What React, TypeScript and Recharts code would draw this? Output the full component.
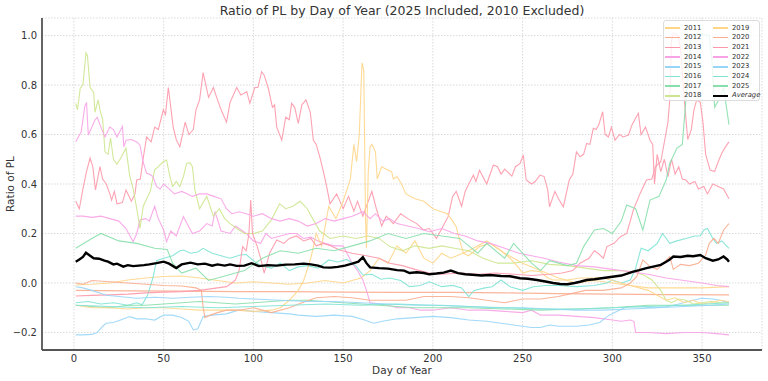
import { LineChart, Line, XAxis, YAxis, CartesianGrid } from "recharts";

type P = [number, number];

// [day of year, ratio]
const s2011: P[] = [[1,-0.008],[10,-0.005],[20,0],[30,0.012],[40,0.02],[50,0.026],[60,0.028],[70,0.02],[80,0.01],[90,0],[100,0.005],[110,0],[120,-0.005],[130,0],[140,0.01],[150,0],[160,0.02],[165,0.05],[170,0.1],[175,0.08],[180,0.15],[185,0.12],[190,0.17],[195,0.1],[200,0.08],[205,0.12],[210,0.1],[220,0.13],[230,0.17],[240,0.12],[250,0.08],[260,0.05],[270,0.02],[280,0],[290,0.01],[300,0],[310,-0.01],[320,-0.02],[330,-0.02],[340,-0.02],[350,-0.02],[365,-0.015]];
const s2012: P[] = [[1,-0.03],[30,-0.032],[60,-0.033],[90,-0.035],[120,-0.035],[150,-0.037],[180,-0.038],[210,-0.038],[240,-0.04],[270,-0.043],[300,-0.045],[330,-0.047],[365,-0.048]];
const s2013: P[] = [[1,0.33],[3,0.3],[5,0.38],[7,0.45],[9,0.505],[10.5,0.47],[12,0.376],[14.5,0.47],[16,0.42],[18,0.4],[20,0.36],[21,0.335],[22.5,0.37],[24,0.32],[27,0.325],[29,0.376],[32,0.33],[34,0.36],[35,0.416],[37,0.42],[38.5,0.5],[40.5,0.59],[43,0.57],[45,0.63],[47,0.62],[49.8,0.7],[51,0.68],[52.6,0.79],[55.3,0.63],[57,0.58],[59,0.55],[62,0.65],[64,0.6],[66.5,0.62],[68,0.7],[70,0.74],[72,0.85],[75,0.75],[77.7,0.79],[80,0.74],[82,0.7],[85,0.65],[87,0.73],[90.7,0.79],[93,0.76],[96.3,0.773],[98,0.726],[100.8,0.79],[102.5,0.79],[104.6,0.854],[106,0.84],[108.3,0.787],[110.6,0.71],[111.8,0.72],[113,0.63],[115.8,0.577],[118,0.67],[120,0.66],[121.3,0.726],[123,0.71],[125,0.645],[127,0.72],[129.3,0.74],[131.7,0.69],[133.4,0.577],[135,0.56],[137,0.51],[139,0.45],[140.8,0.39],[142.7,0.32],[146.4,0.36],[150,0.3],[153,0.35],[156,0.29],[158,0.33],[161,0.27],[166,0.37],[168.5,0.3],[171.5,0.23],[174,0.27],[178,0.24],[182,0.28],[186,0.26],[191,0.24],[194.7,0.214],[198,0.22],[202,0.18],[205,0.22],[208.6,0.27],[211,0.35],[213,0.37],[216,0.31],[218,0.37],[220,0.4],[222.6,0.436],[224,0.41],[226,0.456],[230,0.4],[233.7,0.477],[236,0.47],[238,0.44],[240,0.46],[244,0.432],[246,0.47],[248.6,0.483],[250.4,0.517],[252,0.416],[255,0.4],[257,0.41],[259.7,0.436],[262,0.43],[264,0.376],[265,0.308],[268,0.37],[270,0.34],[272.7,0.308],[276,0.416],[278,0.44],[280,0.53],[282,0.51],[284,0.52],[285.7,0.564],[287.5,0.56],[289.4,0.625],[291,0.62],[292.5,0.64],[294.6,0.692],[296,0.6],[297.8,0.59],[299.5,0.63],[301.5,0.577],[304,0.6],[306,0.59],[309,0.598],[311,0.64],[314.5,0.686],[316,0.6],[318.5,0.63],[321,0.577],[322.5,0.56],[323.5,0.4],[325,0.52],[327,0.45],[329,0.5],[331,0.43],[333,0.5],[335,0.44],[337,0.47],[339,0.42],[341,0.416],[343,0.4],[346,0.41],[348,0.38],[351,0.39],[353,0.36],[356,0.4],[359,0.39],[362,0.38],[365,0.34]];
const s2014: P[] = [[1,0.27],[5,0.27],[10,0.265],[15,0.27],[20,0.26],[25,0.25],[29,0.22],[33,0.167],[35,0.2],[36.8,0.255],[40,0.26],[42,0.25],[45,0.31],[47,0.26],[50,0.214],[51.6,0.167],[54,0.21],[57,0.19],[61,0.268],[63,0.24],[66,0.2],[70,0.21],[74,0.24],[77,0.23],[78.6,0.288],[82,0.21],[87,0.2],[90,0.23],[92,0.22],[96,0.2],[100,0.17],[104,0.16],[107,0.2],[110,0.18],[115,0.19],[120,0.2],[124,0.2],[128,0.18],[132,0.185],[136,0.17],[140,0.16],[145,0.15],[150,0.15],[155,0.08],[158,0.05],[161,0.012],[163,-0.03],[165,-0.08],[170,-0.085],[175,-0.09],[180,-0.1],[187,-0.1],[193,-0.11],[200,-0.11],[210,-0.1],[220,-0.11],[230,-0.11],[240,-0.115],[250,-0.12],[255,-0.11],[260,-0.13],[270,-0.13],[280,-0.135],[290,-0.14],[300,-0.15],[305,-0.155],[310,-0.15],[312,-0.155],[313,-0.2],[320,-0.2],[330,-0.205],[340,-0.2],[350,-0.2],[358,-0.205],[365,-0.21]];
const s2015: P[] = [[1,-0.21],[5,-0.21],[10,-0.208],[13,-0.2],[16,-0.175],[18,-0.163],[22,-0.16],[26,-0.15],[31,-0.136],[35,-0.145],[40,-0.145],[45,-0.15],[50,-0.13],[55,-0.13],[60,-0.14],[64,-0.155],[66.5,-0.19],[69,-0.185],[72,-0.136],[77,-0.13],[85,-0.125],[92,-0.109],[100,-0.115],[110,-0.12],[120,-0.125],[125,-0.13],[135,-0.135],[145,-0.13],[155,-0.135],[162,-0.15],[167,-0.163],[172,-0.155],[180,-0.145],[190,-0.14],[200,-0.135],[210,-0.14],[220,-0.15],[230,-0.155],[240,-0.165],[250,-0.175],[255,-0.18],[260,-0.18],[265,-0.17],[270,-0.175],[280,-0.175],[287,-0.17],[293,-0.16],[297,-0.136],[301,-0.12],[308,-0.096],[316,-0.096],[323,-0.1],[330,-0.096],[337,-0.085],[342,-0.075],[350,-0.062],[356,-0.065],[360,-0.07],[365,-0.08]];
const s2016: P[] = [[1,-0.08],[8,-0.075],[15,-0.085],[22,-0.08],[30,-0.09],[35,-0.08],[38,-0.088],[41,-0.05],[44,0.02],[46,0.09],[50,0.1],[55,0.11],[59,0.13],[61,0.133],[65,0.12],[69,0.125],[72,0.14],[77,0.12],[82,0.11],[87,0.1],[92.6,0.113],[96,0.115],[100,0.09],[104,0.07],[110,0.06],[115,0.08],[120,0.05],[125,0.065],[130,0.07],[136,0.06],[142,0.093],[147,0.085],[152,0.095],[157,0.07],[161,0.032],[166,0.035],[171,0.015],[176,0.02],[182,0.01],[187,-0.015],[193,-0.01],[198,0.005],[205,-0.015],[211,-0.01],[216,-0.02],[220,-0.055],[223,-0.03],[229,-0.02],[233,-0.015],[238,0.012],[243,-0.015],[250,-0.03],[256,-0.015],[263,-0.01],[270,-0.01],[280,-0.015],[290,-0.01],[297,0],[300,0.012],[305,0],[310,0.012],[313,0.06],[316,0.14],[320,0.13],[325,0.16],[328,0.2],[332,0.16],[336,0.17],[341,0.18],[346,0.19],[349,0.19],[351,0.214],[353,0.22],[356,0.18],[358,0.16],[361,0.17],[365,0.14]];
const s2017: P[] = [[1,-0.09],[10,-0.095],[20,-0.1],[30,-0.09],[40,-0.09],[50,-0.085],[60,-0.08],[70,-0.075],[80,-0.08],[90,-0.085],[100,-0.08],[110,-0.075],[120,-0.07],[130,-0.07],[140,-0.075],[150,-0.08],[160,-0.085],[170,-0.09],[180,-0.095],[190,-0.1],[200,-0.1],[220,-0.1],[240,-0.105],[260,-0.11],[280,-0.105],[300,-0.1],[320,-0.09],[340,-0.09],[365,-0.09]];
const s2018: P[] = [[1,0.726],[2,0.7],[3.5,0.787],[5,0.8],[6.7,0.93],[7.5,0.92],[9,0.79],[11,0.77],[11.7,0.69],[13.5,0.74],[14.5,0.7],[16,0.66],[17.3,0.53],[19,0.52],[20.4,0.586],[22,0.5],[24,0.48],[26.5,0.51],[29,0.545],[31,0.436],[33,0.38],[35,0.3],[36.8,0.22],[38.6,0.31],[42.5,0.37],[45,0.457],[47,0.47],[49.8,0.49],[51.6,0.497],[53.5,0.43],[55,0.39],[57,0.41],[59,0.39],[61,0.43],[62.8,0.483],[64.6,0.486],[66,0.47],[67.4,0.376],[70,0.3],[74,0.35],[77.7,0.27],[81,0.3],[84,0.26],[87,0.24],[90.7,0.22],[95,0.2],[100,0.2],[105,0.21],[110,0.255],[114.6,0.32],[118,0.3],[122,0.31],[126,0.33],[130,0.3],[133.4,0.255],[137,0.21],[142.7,0.18],[150,0.19],[157,0.18],[164,0.19],[170,0.18],[176,0.147],[183,0.13],[190,0.15],[198,0.14],[205,0.15],[212,0.14],[220,0.13],[228,0.1],[236,0.08],[245,0.08],[255,0.09],[265,0.075],[275,0.07],[285,0.06],[295,0.05],[305,0.05],[312,0.045],[318,0.03],[322,0.012],[327,-0.03],[330,-0.07],[333,-0.08],[337,-0.065],[341,-0.07],[345,-0.085],[350,-0.08],[355,-0.075],[360,-0.08],[365,-0.08]];
const s2019: P[] = [[1,-0.09],[10,-0.1],[20,-0.1],[30,-0.105],[40,-0.1],[50,-0.1],[60,-0.105],[70,-0.11],[80,-0.11],[90,-0.11],[100,-0.115],[110,-0.11],[115,-0.1],[120,-0.07],[125,-0.03],[128,0.01],[132,0.1],[135,0.2],[138,0.15],[142,0.31],[146,0.26],[150,0.33],[154,0.42],[156,0.56],[157.5,0.49],[159,0.6],[160.5,0.89],[161.5,0.86],[162.5,0.25],[163,0.14],[164,0.45],[165,0.55],[166,0.56],[168,0.53],[169,0.42],[171.5,0.47],[174,0.46],[177,0.45],[178,0.42],[180,0.43],[182.5,0.4],[185,0.36],[190,0.34],[195,0.33],[200,0.3],[204,0.29],[208,0.28],[211,0.25],[213,0.227],[215,0.17],[217,0.12],[220,0.11],[226,0.147],[232,0.16],[238,0.13],[243,0.1],[248,0.06],[250,0.04],[255,0.05],[260,0.045],[264,0.02],[267,0.012],[275,0.012],[282,0.02],[290,0.02],[295,0.02],[300,0.01],[305,0],[310,-0.01],[315,-0.02],[320,-0.03],[325,-0.05],[330,-0.07],[335,-0.06],[340,-0.08],[345,-0.07],[350,-0.085],[355,-0.08],[360,-0.07],[365,-0.075]];
const s2020: P[] = [[1,0],[5,-0.005],[10,0.01],[20,0.005],[30,0],[40,-0.005],[50,-0.01],[60,-0.012],[68,-0.02],[71,-0.03],[72,-0.1],[73,-0.14],[76,-0.13],[80,-0.12],[85,-0.11],[92,-0.11],[100,-0.1],[110,-0.12],[120,-0.1],[127,-0.08],[135,-0.06],[145,-0.055],[155,-0.06],[165,-0.07],[175,-0.07],[185,-0.07],[195,-0.055],[210,-0.055],[220,-0.06],[230,-0.07],[240,-0.08],[250,-0.065],[260,-0.065],[270,-0.055],[285,-0.03],[295,-0.03],[305,-0.02],[310,0],[313.6,0.025],[317,0.093],[321,0.066],[325,0.055],[328,0.077],[332,0.107],[334,0.055],[338,0.075],[343,0.07],[348,0.08],[352,0.113],[354,0.16],[356.6,0.18],[359,0.16],[362,0.214],[365,0.24]];
const s2021: P[] = [[1,-0.053],[10,-0.05],[20,-0.048],[30,-0.045],[40,-0.04],[50,-0.037],[60,-0.035],[70,-0.03],[80,-0.02],[85,-0.015],[88,0],[90,0.012],[92,0.05],[94,0.147],[96,0.13],[97.5,0.2],[98.5,0.335],[99.5,0.2],[102,0.15],[104,0.1],[106,0.04],[109,0.12],[113,0.174],[117,0.16],[120,0.18],[124,0.19],[128,0.17],[132,0.18],[135,0.15],[139,0.16],[143,0.15],[148,0.133],[155,0.12],[163,0.11],[170,0.1],[176,0.08],[183,0.07],[190,0.055],[198,0.04],[205,0.035],[215,0.04],[225,0.035],[235,0.04],[245,0.035],[255,0.03],[265,0.035],[272,0.04],[278,0.05],[282,0.08],[287,0.1],[290,0.13],[292,0.12],[295,0.1],[297,0.147],[301,0.16],[304.5,0.187],[308,0.2],[310,0.25],[311.7,0.295],[315.5,0.362],[319,0.416],[322,0.42],[324,0.47],[327,0.49],[329.5,0.59],[331,0.65],[332,0.74],[333,0.98],[334,1.01],[336.5,1],[338,0.95],[340,0.75],[342,0.58],[344,0.62],[345.5,0.7],[347,0.74],[349,0.73],[350.5,0.65],[352,0.52],[354.5,0.456],[357,0.45],[359,0.49],[361,0.524],[363,0.55],[365,0.57]];
const s2022: P[] = [[1,0.571],[4,0.61],[6,0.712],[7,0.73],[8,0.598],[10,0.63],[11.7,0.659],[13,0.67],[15,0.63],[17.3,0.59],[20,0.63],[22,0.62],[24,0.59],[27,0.632],[27.8,0.55],[29,0.577],[32,0.58],[35,0.57],[36.8,0.557],[38.5,0.49],[40.5,0.443],[42,0.44],[44,0.43],[46,0.39],[48,0.38],[50,0.4],[53,0.38],[56,0.36],[60,0.37],[62.8,0.362],[66,0.35],[70,0.36],[74,0.36],[78,0.35],[82,0.34],[85,0.3],[88,0.28],[92,0.288],[96,0.28],[100,0.27],[105,0.28],[110,0.26],[115,0.25],[120,0.26],[125,0.25],[130,0.23],[135,0.24],[140,0.26],[145,0.25],[150,0.26],[155,0.27],[161,0.288],[165,0.26],[168,0.28],[172,0.25],[176,0.26],[180,0.24],[186,0.23],[192,0.22],[198,0.207],[205,0.22],[212,0.2],[218,0.19],[225,0.17],[232,0.16],[240,0.14],[248,0.12],[255,0.11],[262,0.1],[270,0.085],[280,0.07],[290,0.065],[300,0.055],[310,0.045],[320,0.035],[330,0.02],[340,0.01],[350,0],[358,-0.01],[365,-0.015]];
const s2023: P[] = [[1,-0.015],[5,-0.02],[10,-0.03],[18,-0.05],[25,-0.055],[35,-0.062],[45,-0.058],[55,-0.062],[65,-0.058],[75,-0.055],[85,-0.058],[92,-0.062],[100,-0.065],[115,-0.07],[130,-0.075],[145,-0.075],[160,-0.08],[175,-0.085],[190,-0.09],[205,-0.09],[220,-0.095],[235,-0.1],[250,-0.1],[265,-0.105],[280,-0.11],[295,-0.11],[310,-0.105],[325,-0.1],[340,-0.095],[355,-0.09],[365,-0.085]];
const s2024: P[] = [[1,-0.09],[20,-0.095],[40,-0.1],[60,-0.095],[80,-0.1],[100,-0.095],[120,-0.09],[140,-0.085],[160,-0.09],[180,-0.085],[200,-0.09],[220,-0.095],[240,-0.1],[260,-0.105],[280,-0.105],[300,-0.1],[320,-0.095],[340,-0.09],[365,-0.08]];
const s2025: P[] = [[1,0.14],[10,0.18],[15,0.2],[25,0.17],[35,0.16],[45,0.14],[52,0.135],[55,0.08],[60,0.04],[68,0.06],[75,0.01],[85,0.03],[95,0.05],[105,0.1],[115,0.13],[125,0.12],[135,0.14],[145,0.13],[155,0.15],[165,0.17],[175,0.2],[185,0.18],[195,0.2],[205,0.19],[215,0.18],[225,0.12],[230,0.16],[240,0.1],[245,0.16],[255,0.08],[260,0.05],[265,0.09],[275,0.07],[280,0.08],[284,0.147],[290,0.214],[295,0.22],[300,0.2],[305,0.25],[308,0.315],[313,0.3],[317,0.214],[321,0.335],[326,0.35],[330,0.416],[332,0.483],[336,0.545],[339,0.56],[341,0.74],[342.5,0.85],[344,0.995],[346,1],[350,1.005],[354,1],[355.5,0.9],[357,0.71],[360,0.75],[362,0.79],[365,0.64]];
const avg: P[] = [[1,0.086],[3,0.095],[5,0.105],[6.7,0.122],[9,0.11],[11,0.1],[14,0.098],[17,0.09],[19,0.086],[22,0.075],[24,0.078],[27.5,0.066],[30,0.072],[33,0.068],[36,0.07],[39,0.072],[42,0.075],[46,0.08],[50,0.086],[53,0.078],[57,0.06],[60,0.075],[65,0.082],[69,0.075],[73,0.078],[77,0.07],[80,0.075],[84,0.07],[87,0.075],[90.7,0.069],[95,0.07],[99,0.08],[103,0.068],[108,0.072],[113,0.07],[118,0.074],[123,0.075],[128,0.078],[132,0.075],[136,0.07],[139,0.063],[143,0.062],[147,0.065],[151,0.07],[155,0.078],[158.5,0.086],[161,0.104],[163,0.08],[165,0.063],[170,0.06],[175,0.058],[180,0.052],[184,0.05],[187,0.04],[191,0.043],[195,0.04],[198,0.035],[202,0.038],[206,0.042],[210,0.05],[214,0.04],[218,0.035],[222,0.033],[227,0.03],[232,0.032],[238,0.028],[243,0.027],[248.6,0.019],[253,0.017],[258,0.012],[263.5,0.005],[267,0],[271,-0.004],[275,-0.005],[279,0],[282,0.005],[285.7,0.012],[290,0.015],[295,0.02],[300,0.025],[305,0.03],[311.7,0.046],[315,0.052],[319,0.06],[324,0.068],[327,0.073],[330,0.086],[332,0.095],[334,0.107],[338,0.105],[342,0.11],[345,0.108],[349,0.113],[352,0.1],[356,0.09],[359,0.095],[362,0.107],[364,0.095],[365,0.086]];

const palette = ["#fed68a", "#f9ac8e", "#fd98aa", "#f8a2e6", "#98d6f8", "#7fe3d6", "#88dfac", "#cde58e"];

const years = [
  { name: "2011", pts: s2011 }, { name: "2012", pts: s2012 }, { name: "2013", pts: s2013 },
  { name: "2014", pts: s2014 }, { name: "2015", pts: s2015 }, { name: "2016", pts: s2016 },
  { name: "2017", pts: s2017 }, { name: "2018", pts: s2018 }, { name: "2019", pts: s2019 },
  { name: "2020", pts: s2020 }, { name: "2021", pts: s2021 }, { name: "2022", pts: s2022 },
  { name: "2023", pts: s2023 }, { name: "2024", pts: s2024 }, { name: "2025", pts: s2025 },
];

const xTicks = [0, 50, 100, 150, 200, 250, 300, 350];
const yTicks = [-0.2, 0, 0.2, 0.4, 0.6, 0.8, 1.0];

const toRows = (pts: P[]) => pts.map(([day, v]) => ({ day, v }));
const font = "DejaVu Sans";

const fmtY = (v: number) => (v < 0 ? "\u2212" + Math.abs(v).toFixed(1) : v.toFixed(1));

function LegendBox() {
  const entries = [
    ...years.map((y, i) => ({ name: y.name, color: palette[i % 8], avg: false })),
    { name: "Average", color: "#000", avg: true },
  ];
  return (
    <div style={{
      position: "absolute", left: 663, top: 20, width: 97, height: 81,
      background: "rgba(255,255,255,0.8)", border: "1px solid #dcdcdc", borderRadius: 3,
      boxSizing: "border-box",
    }}>
      {entries.map((e, i) => {
        const col = i < 8 ? 0 : 1;
        const row = i % 8;
        return (
          <div key={e.name} style={{ position: "absolute", left: 1 + col * 48, top: 2.5 + row * 9.7, height: 9, display: "flex", alignItems: "center" }}>
            <span style={{ display: "inline-block", width: 15, height: e.avg ? 2.5 : 1.6, background: e.color, marginRight: 4 }} />
            <span style={{ fontFamily: font, fontSize: 6.8, color: "#333", fontStyle: e.avg ? "italic" : "normal", lineHeight: "9px" }}>{e.name}</span>
          </div>
        );
      })}
    </div>
  );
}

export default function App() {
  return (
    <div style={{ position: "absolute", left: 0, top: 0, width: 768, height: 381, background: "#fff", overflow: "hidden" }}>
      <div style={{ position: "absolute", left: 0, width: 804, top: 3, textAlign: "center", fontFamily: font, fontSize: 12.5, color: "#333" }}>
        Ratio of PL by Day of Year (2025 Included, 2010 Excluded)
      </div>
      <LineChart width={768} height={381} margin={{ top: 18, right: 6, bottom: 0, left: 8 }}>
        <CartesianGrid stroke="#dadada" strokeDasharray="1.5 1.5" />
        <XAxis
          dataKey="day" type="number" domain={[-17.8, 383.4]} allowDataOverflow
          ticks={xTicks} height={31} tickSize={3}
          tick={{ fontSize: 10, fill: "#333", fontFamily: font }}
          axisLine={{ stroke: "#555", strokeWidth: 1.8 }} tickLine={false}
        />
        <YAxis
          type="number" domain={[-0.271, 1.071]} allowDataOverflow
          ticks={yTicks} width={34} tickSize={3} tickFormatter={fmtY}
          tick={{ fontSize: 10, fill: "#333", fontFamily: font }}
          axisLine={{ stroke: "#555", strokeWidth: 1.8 }} tickLine={false}
        />
        {years.map((y, i) => (
          <Line key={y.name} data={toRows(y.pts)} dataKey="v" type="linear" stroke={palette[i % 8]}
            strokeOpacity={0.9} strokeWidth={1.1} dot={false} isAnimationActive={false} />
        ))}
        <Line data={toRows(avg)} dataKey="v" type="linear" stroke="#000" strokeWidth={2.4}
          dot={false} isAnimationActive={false} />
      </LineChart>
      <div style={{ position: "absolute", left: 0, width: 804, top: 364, textAlign: "center", fontFamily: font, fontSize: 10.5, color: "#333" }}>
        Day of Year
      </div>
      <div style={{ position: "absolute", left: 10, top: 184, fontFamily: font, fontSize: 10.5, color: "#333", transform: "translate(-50%, -50%) rotate(-90deg)", whiteSpace: "nowrap" }}>
        Ratio of PL
      </div>
      <LegendBox />
    </div>
  );
}
